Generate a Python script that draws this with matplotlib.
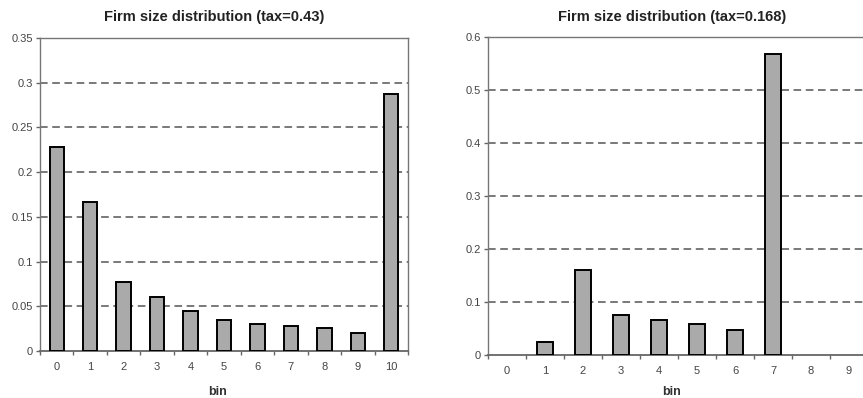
import matplotlib
matplotlib.use("Agg")
import matplotlib.pyplot as plt
import numpy as np

plt.rcParams['font.family'] = ['Liberation Sans', 'DejaVu Sans']

bins_left = [str(i) for i in range(11)]
vals_left = [0.228, 0.167, 0.077, 0.060, 0.045, 0.035, 0.030, 0.028, 0.026, 0.020, 0.287]
bins_right = [str(i) for i in range(10)]
vals_right = [0.0, 0.025, 0.161, 0.075, 0.066, 0.059, 0.048, 0.568, 0.0, 0.0]

W, H = 863, 398
fig = plt.figure(figsize=(W / 100, H / 100), dpi=100)
fig.patch.set_facecolor('white')


def make_ax(px_left, px_right, px_top, px_bottom):
    return fig.add_axes([px_left / W, 1 - px_bottom / H,
                         (px_right - px_left) / W, (px_bottom - px_top) / H])


def style(ax, cats, vals, ymax, ystep, yfmt):
    n = len(cats)
    x = np.arange(n)
    lws = [1.4 if v > 0 else 0 for v in vals]
    ax.bar(x, vals, width=0.43, color='#aaaaaa', edgecolor='black',
           linewidth=lws, zorder=3)
    ax.set_xlim(-0.5, n - 0.5)
    ax.set_ylim(0, ymax)
    yt = np.round(np.arange(0, ymax + ystep / 2, ystep), 4)
    ax.set_yticks(yt)
    ax.set_yticklabels([yfmt(v) for v in yt])
    for v in yt[1:-1]:
        ax.axhline(v, color='#555555', linestyle=(0, (5, 3)), linewidth=1.1, zorder=1)
    ax.set_xticks(x)
    ax.set_xticklabels(cats)
    ax.set_xticks(np.arange(-0.5, n, 1), minor=True)
    ax.tick_params(axis='x', which='major', length=0, pad=8, labelsize=8, labelcolor='#444444')
    ax.tick_params(axis='x', which='minor', length=3, direction='out', color='#666666', width=1)
    ax.tick_params(axis='y', length=3, direction='out', color='#666666', width=1,
                   labelsize=8, labelcolor='#444444', pad=2)
    for sp in ax.spines.values():
        sp.set_color('#777777')
        sp.set_linewidth(1.0)
    ax.spines['bottom'].set_color('#666666')
    ax.spines['bottom'].set_linewidth(1.3)
    ax.set_facecolor('white')


def fmt_left(v):
    s = ('%.2f' % v).rstrip('0').rstrip('.')
    return s if s else '0'


def fmt_right(v):
    s = ('%.1f' % v).rstrip('0').rstrip('.')
    return s if s else '0'


ax1 = make_ax(40, 408, 38, 351)
style(ax1, bins_left, vals_left, 0.35, 0.05, fmt_left)

ax2 = make_ax(488, 868, 37, 355)
style(ax2, bins_right, vals_right, 0.6, 0.1, fmt_right)

fig.text(214 / W, 1 - 17 / H, 'Firm size distribution (tax=0.43)', ha='center', va='center',
         fontsize=10.5, fontweight='bold', color='#222222')
fig.text(672 / W, 1 - 17 / H, 'Firm size distribution (tax=0.168)', ha='center', va='center',
         fontsize=10.5, fontweight='bold', color='#222222')
fig.text(218 / W, 1 - 392 / H, 'bin', ha='center', va='center', fontsize=9,
         fontweight='bold', color='#333333')
fig.text(672 / W, 1 - 392 / H, 'bin', ha='center', va='center', fontsize=9,
         fontweight='bold', color='#333333')

fig.savefig('out.png', dpi=100, facecolor='white')
